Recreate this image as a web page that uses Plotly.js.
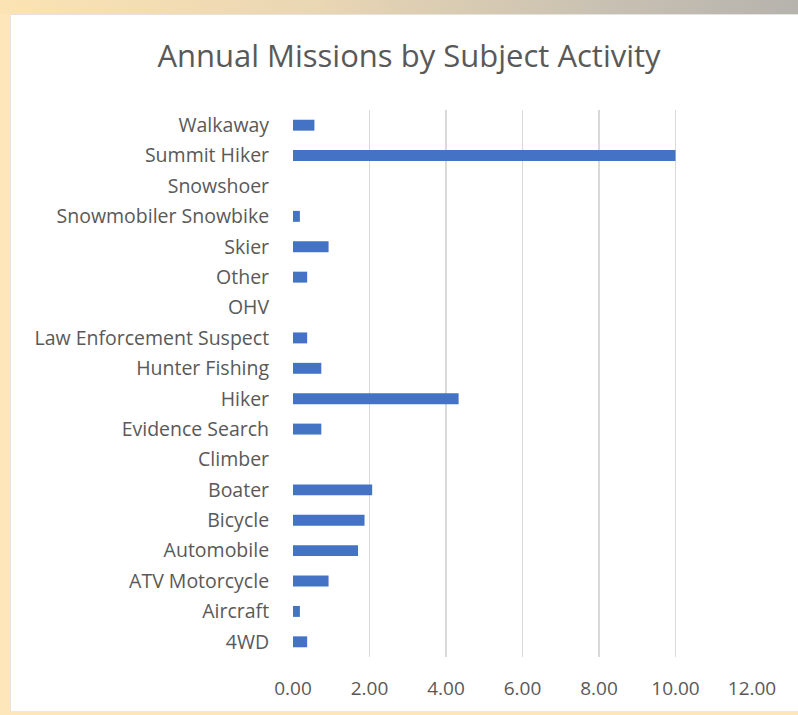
<!DOCTYPE html>
<html>
<head>
<meta charset="utf-8">
<script src="https://cdn.plot.ly/plotly-3.0.1.min.js"></script>
<style>
  html, body { margin: 0; padding: 0; width: 798px; height: 715px; overflow: hidden; }
  body { background: #fde6b9; position: relative; }
  #band { position: absolute; left: 0; top: 0; width: 798px; height: 14px;
          background: linear-gradient(to right, #fbe3b3 0%, #e9d6b3 40%, #c9c1b2 75%, #b6b3ad 100%); }
  #panel { position: absolute; left: 10px; top: 14px; width: 800px; height: 696px;
           background: #ffffff; border-top: 1px solid #e3e3e3; border-left: 1px solid #e3e3e3; }
  #chart { position: absolute; left: 0; top: 0; width: 800px; height: 696px; }
</style>
</head>
<body>
<div id="band"></div>
<div id="panel"><div id="chart"></div></div>
<script>
const categories = ["4WD", "Aircraft", "ATV Motorcycle", "Automobile", "Bicycle", "Boater", "Climber",
  "Evidence Search", "Hiker", "Hunter Fishing", "Law Enforcement Suspect", "OHV", "Other", "Skier",
  "Snowmobiler Snowbike", "Snowshoer", "Summit Hiker", "Walkaway"];
const missions = [0.37, 0.18, 0.93, 1.70, 1.87, 2.07, 0, 0.74, 4.33, 0.74, 0.37, 0, 0.37, 0.93,
  0.18, 0, 10.00, 0.56];
const xTicks = [0, 2, 4, 6, 8, 10, 12];
const chartTitle = "Annual Missions by Subject Activity";

const trace = {
  type: "bar",
  orientation: "h",
  y: categories,
  x: missions,
  width: 0.36,
  marker: { color: "#4472c4" },
  hoverinfo: "x+y"
};

const layout = {
  width: 800,
  height: 696,
  margin: { l: 282, r: 59, t: 95, b: 54 },
  paper_bgcolor: "#ffffff",
  plot_bgcolor: "#ffffff",
  showlegend: false,
  font: { family: "Open Sans, Noto Sans, sans-serif", color: "#595959", size: 19 },
  title: {
    text: chartTitle,
    font: { family: "Open Sans, Noto Sans, sans-serif", size: 31, color: "#595959" },
    x: 0.4975, xref: "container", xanchor: "center",
    y: 1, yref: "container", yanchor: "top", pad: { t: 30 }
  },
  xaxis: {
    range: [0, 12],
    tickvals: xTicks,
    tickformat: ".2f",
    showgrid: true,
    gridcolor: "#d9d9d9",
    gridwidth: 1.5,
    zeroline: false,
    showline: false,
    ticks: "outside",
    ticklen: 14,
    tickcolor: "rgba(0,0,0,0)",
    tickfont: { size: 19, color: "#595959" },
    fixedrange: true
  },
  yaxis: {
    type: "category",
    categoryorder: "array",
    categoryarray: categories,
    showgrid: false,
    zeroline: false,
    showline: false,
    ticks: "outside",
    ticklen: 19,
    tickcolor: "rgba(0,0,0,0)",
    tickfont: { size: 19.5, color: "#595959" },
    automargin: false,
    fixedrange: true
  },
  bargap: 0.64
};

Plotly.newPlot("chart", [trace], layout, { displayModeBar: false, staticPlot: true });
</script>
</body>
</html>
